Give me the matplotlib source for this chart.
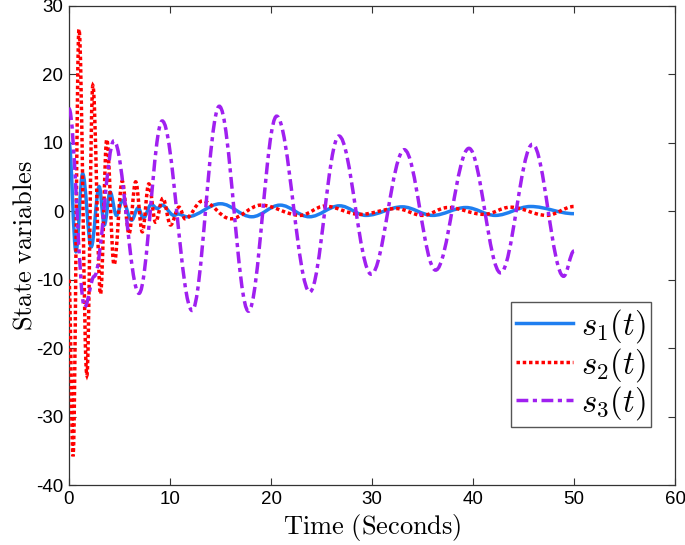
import numpy as np
import matplotlib
matplotlib.use('Agg')
import matplotlib.pyplot as plt
from matplotlib.path import Path
from matplotlib.patches import PathPatch
from matplotlib.lines import Line2D

plt.rcParams['mathtext.fontset'] = 'cm'
plt.rcParams['axes.unicode_minus'] = False
plt.rcParams['font.family'] = ['Liberation Sans', 'DejaVu Sans']

# turning points (time in s, value)
t_s1 = [0, 0.69, 1.35, 2.2, 2.99, 3.5, 4.07, 4.7, 5.3, 6.2, 6.85, 7.35, 8.15, 8.74, 9.2,
        10.4, 10.8, 11.7, 15.0, 18.1, 20.9, 23.8, 26.8, 29.4, 33.0, 36.0, 39.3, 42.2, 45.7, 50]
s1 = [10, -5.9, 5.5, -5.2, 3.6, -2.0, 2.8, -0.6, 1.6, -1.3, 0.5, -1.0, 1.0, 0.4, 0.9,
      -0.6, -0.4, -0.8, 1.1, -0.8, 0.9, -0.8, 0.8, -0.6, 0.65, -0.6, 0.55, -0.6, 0.7, -0.35]

t_s2 = [0, 0.4, 0.99, 1.77, 2.36, 3.12, 3.74, 4.46, 5.27, 5.94, 6.6, 7.26, 7.9, 8.57, 9.3,
        10.05, 10.9, 11.5, 13.2, 16.0, 19.0, 22.9, 25.3, 28.8, 32.4, 35.0, 37.5, 41.1, 43.7, 47.3, 50]
s2 = [-10, -35.8, 26.6, -24, 18.4, -12.1, 10.5, -7.8, 4.4, -3.3, 4.3, -3.0, 4.0, -1.6, 1.9,
      -2.0, 0.6, -1.1, 1.5, -1.1, 0.9, -0.6, 0.75, -0.45, 0.4, -0.6, 0.55, -0.45, 0.6, -0.6, 0.7]

t_s3 = [0, 1.55, 2.5, 4.45, 6.93, 9.23, 12.19, 14.88, 17.77, 20.56, 23.84, 26.73, 29.92,
        33.2, 36.3, 39.6, 42.73, 45.9, 48.97, 50]
s3 = [15, -14, -9.5, 10.3, -12.0, 13.2, -14.5, 15.35, -14.6, 13.9, -11.8, 11.0, -9.2,
      9.0, -8.6, 9.2, -9.0, 9.8, -9.5, -5.8]

labels = [r'$s_1(t)$', r'$s_2(t)$', r'$s_3(t)$']
colors = ['#1f7ff0', '#ff0000', '#a020f0']
styles = ['-', (0, (1, 0.8)), (0, (3.4, 1.3, 1.2, 1.3))]


def smooth_path(t, y, k=0.36):
    # cubic segments with flat tangents at each turning point
    verts = [(t[0], y[0])]
    codes = [Path.MOVETO]
    for i in range(len(t) - 1):
        h = t[i + 1] - t[i]
        verts += [(t[i] + k * h, y[i]), (t[i + 1] - k * h, y[i + 1]), (t[i + 1], y[i + 1])]
        codes += [Path.CURVE4] * 3
    return Path(verts, codes)


fig = plt.figure(figsize=(6.85, 5.45), dpi=100)
ax = fig.add_axes([69 / 685, 1 - 485 / 545, 606 / 685, 479 / 545])

handles = []
for i, (t, y) in enumerate([(t_s1, s1), (t_s2, s2), (t_s3, s3)]):
    p = PathPatch(smooth_path(t, y), fill=False, edgecolor=colors[i], lw=2.5,
                  linestyle=styles[i], capstyle='butt', zorder=2 + i)
    ax.add_patch(p)
    handles.append(Line2D([], [], color=colors[i], lw=2.5, linestyle=styles[i],
                          dash_capstyle='butt'))

ax.set_xlim(0, 60)
ax.set_ylim(-40, 30)
ax.set_xticks(np.arange(0, 61, 10))
ax.set_yticks(np.arange(-40, 31, 10))
ax.tick_params(direction='in', top=True, right=True, labelsize=13.5, length=5,
               color='#333333', pad=4)
for s in ax.spines.values():
    s.set_color('#333333')
    s.set_linewidth(0.9)

ax.set_xlabel(r'$\mathrm{Time\ (Seconds)}$', fontsize=19, labelpad=3)
ax.set_ylabel(r'$\mathrm{State\ variables}$', fontsize=19, labelpad=0)

leg = ax.legend(handles, labels, loc='upper right', bbox_to_anchor=(0.960, 0.382),
                borderaxespad=0, fontsize=23.5, fancybox=False, framealpha=1,
                edgecolor='#555555', handlelength=1.75, handletextpad=0.25,
                labelspacing=0.02, borderpad=0.15)
leg.get_frame().set_linewidth(1.0)

fig.savefig('out.png', dpi=100)
